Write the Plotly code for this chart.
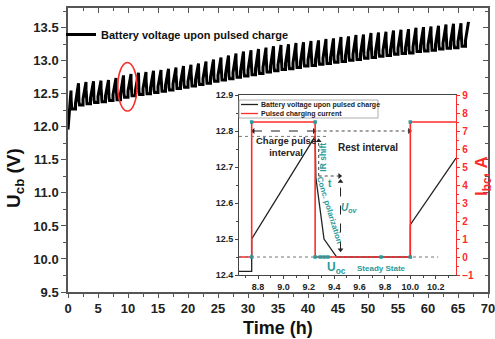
import plotly.graph_objects as go

FONT = "Liberation Sans, Arial, sans-serif"
TEAL = "#2a9a9a"
RED = "#ff2b2b"
AXC = "#555555"

# ---------------- main series ----------------
CYCLE_H = 1.25      # pulse + rest period (from inset)
PULSE_H = 0.5       # charge pulse length (from inset)
start_voltage = 11.96
peak_voltage = [12.55, 12.66, 12.68, 12.69, 12.70, 12.71, 12.74, 12.78, 12.80, 12.82,
                12.83, 12.85, 12.86, 12.88, 12.90, 12.92, 12.94, 12.96, 12.99, 13.02,
                13.05, 13.08, 13.11, 13.14, 13.16, 13.18, 13.20, 13.22, 13.24, 13.25,
                13.27, 13.28, 13.30, 13.31, 13.33, 13.34, 13.36, 13.37, 13.39, 13.40,
                13.42, 13.43, 13.44, 13.46, 13.47, 13.48, 13.50, 13.51, 13.52, 13.53,
                13.55, 13.56, 13.57, 13.59]
rest_voltage = [12.27, 12.33, 12.35, 12.37, 12.38, 12.40, 12.41, 12.45, 12.47, 12.49,
                12.50, 12.52, 12.54, 12.56, 12.58, 12.60, 12.62, 12.64, 12.66, 12.69,
                12.71, 12.73, 12.75, 12.77, 12.79, 12.81, 12.83, 12.85, 12.87, 12.88,
                12.90, 12.92, 12.93, 12.95, 12.96, 12.98, 12.99, 13.01, 13.02, 13.04,
                13.05, 13.07, 13.08, 13.10, 13.11, 13.12, 13.14, 13.15, 13.16, 13.18,
                13.19, 13.20, 13.22]
# relaxation shape (time after pulse end, fraction of swing)
on_jump = 0.09
relax_dt = [0.008, 0.04, 0.07, 0.17]
relax_frac = [0.66, 0.39, 0.15, 0.0]

t_main, v_main = [0.0], [start_voltage]
for k, pk in enumerate(peak_voltage):
    s = k * CYCLE_H
    if k > 0:
        t_main.append(s)
        v_main.append(rest_voltage[k - 1] + on_jump)
    t_main.append(s + PULSE_H)
    v_main.append(pk)
    if k < len(rest_voltage):
        tr = rest_voltage[k]
        for dt, f in zip(relax_dt, relax_frac):
            t_main.append(s + PULSE_H + dt)
            v_main.append(tr + f * (pk - tr))
        t_main.append(s + CYCLE_H)
        v_main.append(tr)

# ---------------- inset series ----------------
inset_vt = [8.65, 8.75, 8.75, 9.25, 9.256, 9.29, 9.32, 9.42, 10.0, 10.0, 10.36]
inset_v = [12.41, 12.41, 12.50, 12.785, 12.67, 12.58, 12.50, 12.45, 12.45, 12.54, 12.725]
inset_it = [8.65, 8.75, 8.75, 9.25, 9.25, 10.0, 10.0, 10.36]
inset_i = [0, 0, 7.5, 7.5, 0, 0, 7.5, 7.5]
mark_t = [8.75, 9.25, 10.0, 8.75, 9.25, 9.29, 9.32, 9.35, 9.77, 10.0]
mark_i = [7.5, 7.5, 7.5, 0, 0, 0, 0, 0, 0, 0]
# arrow tips of the inset annotations
tip_t = [8.762, 9.243, 9.993, 9.278, 9.443, 9.45, 9.45]
tip_v = [12.80, 12.80, 12.80, 12.773, 12.675, 12.66, 12.47]
tip_sym = ["triangle-left", "triangle-right", "triangle-right", "triangle-up",
           "triangle-right", "triangle-up", "triangle-down"]

fig = go.Figure()
fig.add_trace(go.Scatter(x=t_main, y=v_main, mode="lines", xaxis="x", yaxis="y",
                         line=dict(color="black", width=3),
                         name="Battery voltage upon pulsed charge", showlegend=True))
# dummy traces for mirrored inside-tick axes
fig.add_trace(go.Scatter(x=[None], y=[None], xaxis="x4", yaxis="y", showlegend=False))
fig.add_trace(go.Scatter(x=[None], y=[None], xaxis="x", yaxis="y4", showlegend=False))

fig.add_trace(go.Scatter(x=inset_vt, y=inset_v, mode="lines", xaxis="x2", yaxis="y2",
                         line=dict(color="#222222", width=1.3), showlegend=False,
                         name="Battery voltage upon pulsed charge"))
fig.add_trace(go.Scatter(x=inset_it, y=inset_i, mode="lines", xaxis="x2", yaxis="y3",
                         line=dict(color=RED, width=1.6), showlegend=False,
                         name="Pulsed charging current"))
fig.add_trace(go.Scatter(x=mark_t, y=mark_i, mode="markers", xaxis="x2", yaxis="y3",
                         marker=dict(color=TEAL, size=3.5, symbol="square"), showlegend=False))
fig.add_trace(go.Scatter(x=tip_t, y=tip_v, mode="markers", xaxis="x2", yaxis="y2",
                         marker=dict(color="#222", size=5, symbol=tip_sym, line=dict(width=0)),
                         showlegend=False, hoverinfo="skip"))

W, H = 495, 339
def px(x): return x / W
def py(y): return 1 - y / H

tickfont_main = dict(family=FONT, size=13, color="#222", weight="bold")
tickfont_in = dict(family=FONT, size=9, color="#222", weight="bold")

fig.update_layout(
    width=W, height=H, margin=dict(l=0, r=0, t=0, b=0, autoexpand=False),
    paper_bgcolor="white", plot_bgcolor="rgba(0,0,0,0)",
    font=dict(family=FONT),
    xaxis=dict(domain=[px(68), px(488)], range=[0, 70], anchor="y", dtick=5, tick0=0,
               automargin=False, ticklabeloverflow="allow",
               ticks="outside", ticklen=4, tickwidth=1.3, tickcolor=AXC,
               minor=dict(dtick=2.5, ticks="outside", ticklen=3, tickcolor=AXC),
               showline=True, linecolor=AXC, linewidth=1.5, showgrid=False, zeroline=False,
               tickfont=tickfont_main),
    yaxis=dict(domain=[py(292), py(8)], range=[9.5, 13.8], anchor="x", dtick=0.5, tick0=9.5,
               automargin=False, ticklabeloverflow="allow",
               tickformat=".1f", ticks="outside", ticklen=5, tickwidth=1.3, tickcolor=AXC,
               minor=dict(dtick=0.25, ticks="outside", ticklen=3, tickcolor=AXC),
               showline=True, linecolor=AXC, linewidth=1.5, showgrid=False, zeroline=False,
               tickfont=tickfont_main),
    xaxis4=dict(overlaying="x", side="top", anchor="y", range=[0, 70], dtick=5, tick0=0,
                automargin=False,
                ticks="inside", ticklen=5, tickcolor=AXC,
                minor=dict(dtick=2.5, ticks="inside", ticklen=3, tickcolor=AXC),
                showticklabels=False, showline=True, linecolor=AXC, linewidth=1.5,
                showgrid=False, zeroline=False),
    yaxis4=dict(overlaying="y", side="right", anchor="x", range=[9.5, 13.8], dtick=0.5,
                automargin=False,
                tick0=9.5, ticks="inside", ticklen=5, tickcolor=AXC,
                minor=dict(dtick=0.25, ticks="inside", ticklen=3, tickcolor=AXC),
                showticklabels=False, showline=True, linecolor=AXC, linewidth=1.5,
                showgrid=False, zeroline=False),
    xaxis2=dict(domain=[px(239), px(456)], range=[8.65, 10.36], anchor="y2", dtick=0.2,
                automargin=False, ticklabeloverflow="allow",
                tick0=8.8, tickformat=".1f", ticks="outside", ticklen=3, tickcolor="#444",
                minor=dict(dtick=0.1, ticks="outside", ticklen=2, tickcolor="#444"),
                showline=True, mirror=True, linecolor="#444", linewidth=1,
                showgrid=False, zeroline=False, tickfont=tickfont_in),
    yaxis2=dict(domain=[py(275), py(95)], range=[12.4, 12.9], anchor="x2", dtick=0.1,
                automargin=False, ticklabeloverflow="allow",
                tick0=12.4, tickformat=".1f", ticks="outside", ticklen=3, tickcolor="#444",
                minor=dict(dtick=0.05, ticks="outside", ticklen=2, tickcolor="#444"),
                showline=True, linecolor="#444", linewidth=1, showgrid=False,
                zeroline=False, tickfont=tickfont_in),
    yaxis3=dict(overlaying="y2", side="right", anchor="x2", range=[-1, 9], dtick=1, tick0=0,
                automargin=False, ticklabeloverflow="allow",
                ticks="outside", ticklen=3, tickcolor=RED,
                minor=dict(dtick=0.5, ticks="outside", ticklen=2, tickcolor=RED),
                showline=True, linecolor=RED, linewidth=1.3, showgrid=False, zeroline=False,
                tickfont=dict(family=FONT, size=10, color=RED, weight="bold")),
    legend=dict(x=px(61), y=py(20), xanchor="left", yanchor="top",
                bgcolor="rgba(0,0,0,0)", borderwidth=0,
                font=dict(family=FONT, size=11, color="#111", weight="bold")),
)

def note(text, x, y, size, color="#222", ref="paper", angle=0, xanchor="center"):
    if ref == "paper":
        xr, yr = "paper", "paper"
    else:
        xr, yr = "x2", "y2"
    return dict(text=text, x=x, y=y, xref=xr, yref=yr, xanchor=xanchor, yanchor="middle",
                textangle=angle, showarrow=False,
                font=dict(family=FONT, size=size, color=color))

annotations = [
    note("<b>U<sub>cb</sub> (V)</b>", px(15), py(178), 19, "#111", angle=-90),
    note("<b>Time (h)</b>", px(278), py(328), 18, "#111"),
    note("<b>I<sub>bc</sub>, A</b>", px(483), py(176), 17, RED, angle=-90),
    # inset legend text
    note("<b>Battery voltage upon pulsed charge</b>", px(259), py(104.5), 7, xanchor="left"),
    note("<b>Pulsed charging current</b>", px(259), py(113.5), 7, xanchor="left"),
    # inset labels
    note("<b>Charge pulse<br>interval</b>", 9.02, 12.756, 9.5, ref="x2"),
    note("<b>Rest interval</b>", 9.67, 12.753, 10, ref="x2"),
    note("<b>IR shift</b>", 9.31, 12.728, 8.5, TEAL, ref="x2", angle=-90),
    note("<b>t</b>", 9.37, 12.655, 10, TEAL, ref="x2"),
    note("<b>Conc. polarization</b>", 9.365, 12.58, 8, TEAL, ref="x2", angle=73),
    note("<b><i>U<sub>ov</sub></i></b>", 9.52, 12.586, 10, TEAL, ref="x2"),
    note("<b>U<sub>oc</sub></b>", 9.42, 12.419, 12, TEAL, ref="x2"),
    note("<b>Steady State</b>", 9.77, 12.417, 8, TEAL, ref="x2"),
]

shapes = [
    dict(type="circle", xref="x", yref="y", x0=8.3, x1=11.5, y0=12.24, y1=12.975,
         line=dict(color=RED, width=1.6)),
    # inset legend box and samples
    dict(type="rect", xref="paper", yref="paper", x0=px(239), x1=px(378), y0=py(118),
         y1=py(100), line=dict(color="#999", width=0.8)),
    dict(type="line", xref="paper", yref="paper", x0=px(241), x1=px(258), y0=py(104.5),
         y1=py(104.5), line=dict(color="#222", width=1.3)),
    dict(type="line", xref="paper", yref="paper", x0=px(241), x1=px(258), y0=py(113.5),
         y1=py(113.5), line=dict(color=RED, width=1.3)),
    # guides in inset
    dict(type="line", xref="x2", yref="y3", x0=8.65, x1=10.22, y0=0, y1=0,
         line=dict(color="#777", width=1, dash="dot")),
    dict(type="line", xref="x2", yref="y2", x0=8.65, x1=9.34, y0=12.785, y1=12.785,
         line=dict(color="#777", width=1, dash="dot")),
    dict(type="line", xref="x2", yref="y2", x0=8.76, x1=9.245, y0=12.80, y1=12.80,
         line=dict(color="#222", width=1, dash="dash")),
    dict(type="line", xref="x2", yref="y2", x0=9.27, x1=9.995, y0=12.80, y1=12.80,
         line=dict(color="#444", width=1, dash="dot")),
    dict(type="line", xref="x2", yref="y2", x0=9.278, x1=9.278, y0=12.675, y1=12.775,
         line=dict(color="#444", width=1, dash="dot")),
    dict(type="line", xref="x2", yref="y2", x0=9.278, x1=9.445, y0=12.675, y1=12.675,
         line=dict(color="#444", width=1, dash="dot")),
    dict(type="line", xref="x2", yref="y2", x0=9.45, x1=9.45, y0=12.468, y1=12.662,
         line=dict(color="#222", width=1, dash="dash")),
]

fig.update_layout(annotations=annotations, shapes=shapes)
fig.write_html("out.html")
